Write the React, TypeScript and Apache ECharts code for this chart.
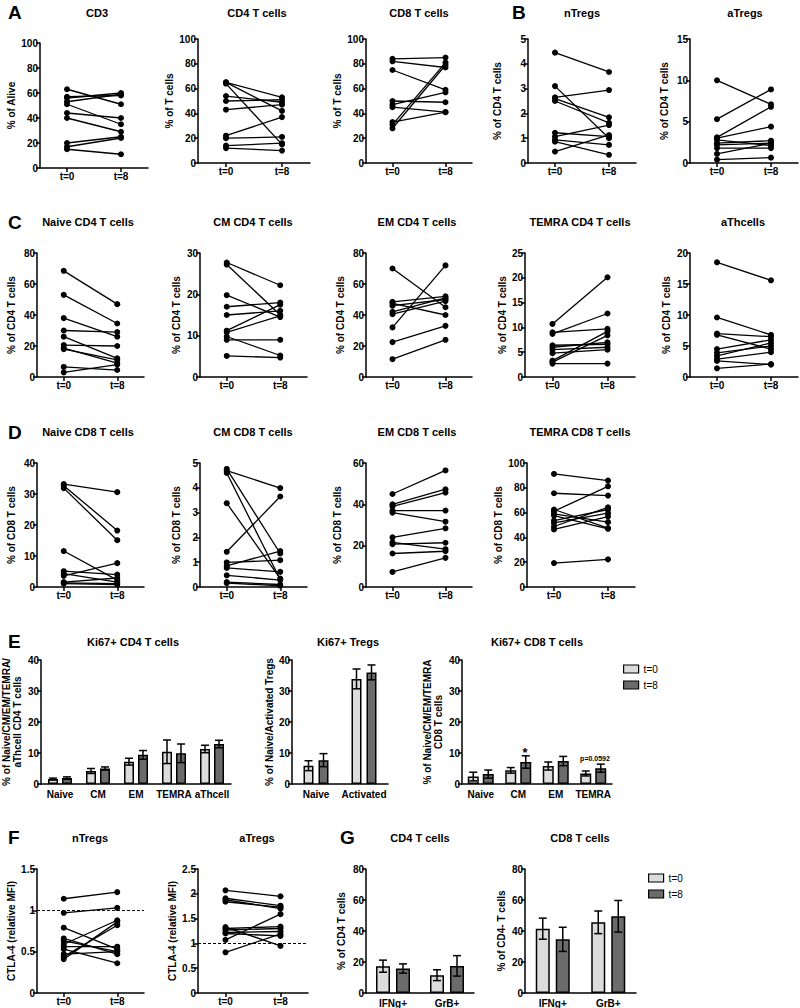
import React, { useEffect, useRef } from "react";
import * as echarts from "echarts";

const FONT = '"Liberation Sans", Arial, Helvetica, sans-serif';
const timeCats = ["t=0", "t=8"];

// Row A
const cd3T0 = [63, 57, 56, 53, 51, 44, 40, 20, 17, 15];
const cd3T8 = [51, 58, 60, 59, 35, 40, 29, 25, 24, 11];
const cd4AT0 = [65, 65, 64, 54, 50, 43, 22, 20, 14, 12];
const cd4AT8 = [53, 42, 15, 49, 51, 47, 37, 21, 16, 10];
const cd8AT0 = [84, 82, 75, 50, 47, 45, 33, 31, 28];
const cd8AT8 = [85, 77, 59, 49, 57, 41, 41, 81, 79];
// Row B
const nTregT0 = [4.45, 3.1, 2.65, 2.6, 2.5, 1.22, 1.06, 0.93, 0.86, 0.46];
const nTregT8 = [3.67, 1.0, 2.94, 1.84, 1.62, 1.06, 1.53, 0.73, 0.33, 1.13];
const aTregT0 = [10.0, 5.3, 3.1, 3.0, 2.8, 2.4, 2.2, 1.8, 1.1, 0.4];
const aTregT8 = [7.1, 8.9, 6.8, 4.4, 2.1, 2.7, 2.4, 1.8, 2.4, 0.65];
// Row C
const naiveCd4T0 = [68.5, 53, 38, 30, 26, 20.6, 18.7, 18, 6.5, 3];
const naiveCd4T8 = [47, 34.5, 26, 29, 12, 20, 9, 11, 4.5, 8];
const cmCd4T0 = [27.7, 27.2, 19.8, 17, 15, 11.2, 10.8, 9.8, 9, 5.1];
const cmCd4T8 = [22.2, 15, 14.5, 18, 16, 17.5, 14.8, 5.2, 9, 4.7];
const emCd4T0 = [70, 48.5, 47.5, 46, 42, 40.5, 32, 22.5, 11.5];
const emCd4T8 = [45, 52, 40, 50, 51, 49, 72, 33, 24];
const temraCd4T0 = [10.7, 9.0, 8.7, 6.4, 6.0, 5.5, 4.8, 3.3, 2.7, 3.0];
const temraCd4T8 = [20.1, 9.7, 12.8, 6.6, 7.0, 6.0, 5.5, 9.2, 2.7, 8.4];
const aThT0 = [18.5, 9.6, 7.0, 6.8, 4.5, 3.9, 3.4, 2.9, 2.6, 1.4];
const aThT8 = [15.6, 6.8, 6.5, 4.5, 6.0, 5.0, 5.5, 4.0, 2.0, 2.1];
// Row D
const naiveCd8T0 = [33.2, 32.7, 31.9, 11.6, 5.1, 4.3, 3.6, 1.6, 1.3, 1.1];
const naiveCd8T8 = [30.6, 18.2, 15.1, 2.2, 4.0, 1.6, 7.7, 2.9, 1.1, 0.8];
const cmCd8T0 = [4.76, 4.69, 4.6, 3.38, 1.42, 0.99, 0.85, 0.77, 0.47, 0.2, 0.16];
const cmCd8T8 = [1.35, 3.99, 0.3, 0.34, 3.65, 1.08, 1.45, 0.61, 0.28, 0.1, 0.05];
const emCd8T0 = [45, 40, 39, 37, 36, 24, 21.6, 20.7, 16.2, 7.3];
const emCd8T8 = [56.4, 47.3, 45.7, 37, 31.6, 28.4, 18.3, 21.4, 17.3, 14.1];
const temraCd8T0 = [91.2, 75.6, 62.5, 61.1, 59, 57.6, 53.6, 51.7, 48.8, 46.4, 19.3];
const temraCd8T8 = [85.8, 73.7, 47.5, 81.2, 52.3, 46.9, 62.5, 59.5, 64.3, 56.8, 22.3];
// Row E
const ki67Cd4Cats = ["Naive", "CM", "EM", "TEMRA", "aThcell"];
const ki67Cd4T0 = [1.6, 4.2, 7.2, 10.4, 11.3];
const ki67Cd4T0Sem = [0.3, 0.8, 1.1, 3.8, 1.2];
const ki67Cd4T8 = [1.9, 5.0, 9.4, 9.9, 12.9];
const ki67Cd4T8Sem = [0.4, 0.5, 1.4, 3.0, 1.2];
const ki67TregCats = ["Naive", "Activated"];
const ki67TregT0 = [5.9, 33.9];
const ki67TregT0Sem = [1.6, 3.2];
const ki67TregT8 = [7.7, 36.0];
const ki67TregT8Sem = [2.1, 2.4];
const ki67Cd8Cats = ["Naive", "CM", "EM", "TEMRA"];
const ki67Cd8T0 = [2.4, 4.4, 5.8, 3.4];
const ki67Cd8T0Sem = [1.4, 0.9, 1.3, 0.8];
const ki67Cd8T8 = [3.2, 7.1, 7.4, 5.1];
const ki67Cd8T8Sem = [1.3, 2.0, 1.5, 1.3];
// Row F
const ctlaNT0 = [1.14, 0.97, 0.79, 0.66, 0.63, 0.59, 0.56, 0.53, 0.47, 0.44, 0.41];
const ctlaNT8 = [1.22, 1.03, 0.53, 0.47, 0.5, 0.88, 0.56, 0.36, 0.5, 0.82, 0.86];
const ctlaAT0 = [2.07, 1.91, 1.88, 1.84, 1.33, 1.3, 1.27, 1.22, 1.2, 1.07, 0.82];
const ctlaAT8 = [1.95, 1.76, 1.7, 1.73, 0.95, 1.34, 1.3, 1.24, 1.15, 1.59, 1.19];
// Row G
const cytoCats = ["IFNg+", "GrB+"];
const cd4CytoT0 = [17.3, 11.5];
const cd4CytoT0Sem = [3.9, 3.5];
const cd4CytoT8 = [15.8, 17.5];
const cd4CytoT8Sem = [3.0, 6.6];
const cd8CytoT0 = [41.5, 45.6];
const cd8CytoT0Sem = [6.8, 7.3];
const cd8CytoT8 = [34.6, 49.5];
const cd8CytoT8Sem = [7.8, 10.2];

const BLACK = "#000";

function buildOption() {
  const grids: any[] = [];
  const xAxes: any[] = [];
  const yAxes: any[] = [];
  const series: any[] = [];
  const graphics: any[] = [];

  const titleText = (text: string, x: number, y: number) =>
    graphics.push({
      type: "text",
      x,
      y,
      silent: true,
      style: { text, fill: BLACK, font: `bold 11px ${FONT}`, align: "center", verticalAlign: "middle" },
    });
  const letter = (text: string, x: number, y: number) =>
    graphics.push({
      type: "text",
      x,
      y,
      silent: true,
      style: { text, fill: BLACK, font: `bold 19px ${FONT}`, align: "left", verticalAlign: "middle" },
    });

  const valAxis = (gi: number, p: any) => ({
    type: "value",
    gridIndex: gi,
    min: p.min,
    max: p.max,
    interval: p.interval,
    axisLine: { show: true, lineStyle: { color: BLACK, width: 1.5 } },
    axisTick: { show: true, length: 4, lineStyle: { color: BLACK, width: 1.5 } },
    axisLabel: { color: BLACK, fontSize: 10, fontWeight: "bold", fontFamily: FONT, margin: 2 },
    splitLine: { show: false },
    name: p.yName,
    nameLocation: "middle",
    nameGap: p.nameGap,
    nameTextStyle: { color: BLACK, fontSize: 10, fontWeight: "bold", fontFamily: FONT, lineHeight: 11 },
  });

  const addGrid = (p: any) => {
    const gi = grids.length;
    grids.push({ left: p.left, top: p.top, width: p.width, height: p.height, containLabel: false });
    return gi;
  };

  const addLinePanel = (p: any) => {
    const gi = addGrid(p);
    xAxes.push({
      type: "category",
      gridIndex: gi,
      data: timeCats,
      boundaryGap: true,
      axisLine: { show: true, lineStyle: { color: BLACK, width: 1.5 } },
      axisTick: { show: true, alignWithLabel: true, length: 4, lineStyle: { color: BLACK, width: 1.5 } },
      axisLabel: { color: BLACK, fontSize: 10, fontWeight: "bold", fontFamily: FONT, margin: 3 },
    });
    yAxes.push(valAxis(gi, p));
    p.t0.forEach((v: number, i: number) => {
      const s: any = {
        type: "line",
        xAxisIndex: gi,
        yAxisIndex: gi,
        data: [v, p.t8[i]],
        symbol: "circle",
        symbolSize: 6,
        silent: true,
        lineStyle: { color: BLACK, width: 1.3 },
        itemStyle: { color: BLACK },
        z: 3,
      };
      if (i === 0 && p.ref !== undefined) {
        s.markLine = {
          silent: true,
          symbol: "none",
          label: { show: false },
          lineStyle: { color: BLACK, type: [3, 2], width: 1.2 },
          data: [{ yAxis: p.ref }],
        };
      }
      series.push(s);
    });
    titleText(p.title, p.tx, p.ty);
  };

  const errRender = (dx: number) => (params: any, api: any) => {
    const i = api.value(0);
    const m = api.value(1);
    const e = api.value(2);
    const top = api.coord([i, m + e]);
    const bot = api.coord([i, m - e]);
    const x = top[0] + dx;
    const cap = 4;
    const st = { stroke: BLACK, lineWidth: 1.5 };
    return {
      type: "group",
      children: [
        { type: "line", shape: { x1: x, y1: top[1], x2: x, y2: bot[1] }, style: st },
        { type: "line", shape: { x1: x - cap, y1: top[1], x2: x + cap, y2: top[1] }, style: st },
        { type: "line", shape: { x1: x - cap, y1: bot[1], x2: x + cap, y2: bot[1] }, style: st },
      ],
    };
  };

  const addBarPanel = (p: any) => {
    const gi = addGrid(p);
    xAxes.push({
      type: "category",
      gridIndex: gi,
      data: p.cats,
      boundaryGap: true,
      axisLine: { show: true, lineStyle: { color: BLACK, width: 1.5 } },
      axisTick: { show: false },
      axisLabel: { color: BLACK, fontSize: 10, fontWeight: "bold", fontFamily: FONT, margin: 5, interval: 0 },
    });
    yAxes.push(valAxis(gi, p));
    const gapPct = `${(p.gap / p.bw) * 100}%`;
    const off = (p.bw + p.gap) / 2;
    series.push({
      type: "bar",
      name: "t=0",
      xAxisIndex: gi,
      yAxisIndex: gi,
      data: p.t0,
      barWidth: p.bw,
      barGap: gapPct,
      silent: true,
      itemStyle: { color: "#dcdcdc", borderColor: BLACK, borderWidth: 1.5 },
    });
    series.push({
      type: "bar",
      name: "t=8",
      xAxisIndex: gi,
      yAxisIndex: gi,
      data: p.t8,
      barWidth: p.bw,
      barGap: gapPct,
      silent: true,
      itemStyle: { color: "#6b6b6b", borderColor: BLACK, borderWidth: 1.5 },
    });
    series.push({
      type: "custom",
      xAxisIndex: gi,
      yAxisIndex: gi,
      silent: true,
      z: 5,
      encode: { x: 0, y: 1 },
      data: p.t0.map((v: number, i: number) => [i, v, p.e0[i]]),
      renderItem: errRender(-off),
    });
    series.push({
      type: "custom",
      xAxisIndex: gi,
      yAxisIndex: gi,
      silent: true,
      z: 5,
      encode: { x: 0, y: 1 },
      data: p.t8.map((v: number, i: number) => [i, v, p.e8[i]]),
      renderItem: errRender(off),
    });
    titleText(p.title, p.tx, p.ty);
  };

  // Row A / B
  addLinePanel({ title: "CD3", tx: 97, ty: 13, left: 40, top: 43, width: 108, height: 125, min: 0, max: 100, interval: 20, yName: "% of Alive", nameGap: 22, t0: cd3T0, t8: cd3T8 });
  addLinePanel({ title: "CD4 T cells", tx: 257, ty: 13, left: 198, top: 39, width: 112, height: 124, min: 0, max: 100, interval: 20, yName: "% of T cells", nameGap: 17, t0: cd4AT0, t8: cd4AT8 });
  addLinePanel({ title: "CD8 T cells", tx: 419, ty: 13, left: 366, top: 39, width: 106, height: 124, min: 0, max: 100, interval: 20, yName: "% of T cells", nameGap: 18, t0: cd8AT0, t8: cd8AT8 });
  addLinePanel({ title: "nTregs", tx: 582, ty: 13, left: 528, top: 39, width: 108, height: 124, min: 0, max: 5, interval: 1, yName: "% of CD4 T cells", nameGap: 25, t0: nTregT0, t8: nTregT8 });
  addLinePanel({ title: "aTregs", tx: 745, ty: 13, left: 690, top: 39, width: 108, height: 124, min: 0, max: 15, interval: 5, yName: "% of CD4 T cells", nameGap: 20, t0: aTregT0, t8: aTregT8 });
  // Row C
  addLinePanel({ title: "Naive CD4 T cells", tx: 88, ty: 222, left: 37, top: 253, width: 107, height: 124, min: 0, max: 80, interval: 20, yName: "% of CD4 T cells", nameGap: 20, t0: naiveCd4T0, t8: naiveCd4T8 });
  addLinePanel({ title: "CM CD4 T cells", tx: 253, ty: 222, left: 200, top: 253, width: 107, height: 124, min: 0, max: 30, interval: 10, yName: "% of CD4 T cells", nameGap: 18, t0: cmCd4T0, t8: cmCd4T8 });
  addLinePanel({ title: "EM CD4 T cells", tx: 417, ty: 222, left: 366, top: 253, width: 106, height: 124, min: 0, max: 80, interval: 20, yName: "% of CD4 T cells", nameGap: 20, t0: emCd4T0, t8: emCd4T8 });
  addLinePanel({ title: "TEMRA CD4 T cells", tx: 580, ty: 222, left: 525, top: 253, width: 110, height: 124, min: 0, max: 25, interval: 5, yName: "% of CD4 T cells", nameGap: 16, t0: temraCd4T0, t8: temraCd4T8 });
  addLinePanel({ title: "aThcells", tx: 743, ty: 222, left: 690, top: 253, width: 108, height: 124, min: 0, max: 20, interval: 5, yName: "% of CD4 T cells", nameGap: 18, t0: aThT0, t8: aThT8 });
  // Row D
  addLinePanel({ title: "Naive CD8 T cells", tx: 88, ty: 432, left: 37, top: 463, width: 107, height: 124, min: 0, max: 40, interval: 10, yName: "% of CD8 T cells", nameGap: 20, t0: naiveCd8T0, t8: naiveCd8T8 });
  addLinePanel({ title: "CM CD8 T cells", tx: 253, ty: 432, left: 200, top: 463, width: 107, height: 124, min: 0, max: 5, interval: 1, yName: "% of CD8 T cells", nameGap: 18, t0: cmCd8T0, t8: cmCd8T8 });
  addLinePanel({ title: "EM CD8 T cells", tx: 417, ty: 432, left: 366, top: 463, width: 106, height: 124, min: 0, max: 60, interval: 20, yName: "% of CD8 T cells", nameGap: 23, t0: emCd8T0, t8: emCd8T8 });
  addLinePanel({ title: "TEMRA CD8 T cells", tx: 580, ty: 432, left: 527, top: 463, width: 108, height: 124, min: 0, max: 100, interval: 20, yName: "% of CD8 T cells", nameGap: 20, t0: temraCd8T0, t8: temraCd8T8 });
  // Row E
  addBarPanel({ title: "Ki67+ CD4 T cells", tx: 133, ty: 642, left: 40, top: 660, width: 191, height: 124, min: 0, max: 40, interval: 10, yName: "% of Naive/CM/EM/TEMRA/\naThcell CD4 T cells", nameGap: 18, cats: ki67Cd4Cats, t0: ki67Cd4T0, e0: ki67Cd4T0Sem, t8: ki67Cd4T8, e8: ki67Cd4T8Sem, bw: 10, gap: 4 });
  addBarPanel({ title: "Ki67+ Tregs", tx: 348, ty: 642, left: 292, top: 660, width: 96, height: 124, min: 0, max: 40, interval: 10, yName: "% of Naive/Activated Tregs", nameGap: 10, cats: ki67TregCats, t0: ki67TregT0, e0: ki67TregT0Sem, t8: ki67TregT8, e8: ki67TregT8Sem, bw: 10, gap: 5 });
  addBarPanel({ title: "Ki67+ CD8 T cells", tx: 537, ty: 642, left: 462, top: 660, width: 150, height: 124, min: 0, max: 40, interval: 10, yName: "% of Naive/CM/EM/TEMRA\nCD8 T cells", nameGap: 18, cats: ki67Cd8Cats, t0: ki67Cd8T0, e0: ki67Cd8T0Sem, t8: ki67Cd8T8, e8: ki67Cd8T8Sem, bw: 11, gap: 4 });
  // Row F
  addLinePanel({ title: "nTregs", tx: 90, ty: 838, left: 37, top: 869, width: 107, height: 124, min: 0, max: 1.5, interval: 0.5, yName: "CTLA-4 (relative MFI)", nameGap: 20, ref: 1, t0: ctlaNT0, t8: ctlaNT8 });
  addLinePanel({ title: "aTregs", tx: 257, ty: 838, left: 198, top: 869, width: 110, height: 124, min: 0, max: 2.5, interval: 0.5, yName: "CTLA-4 (relative MFI)", nameGap: 16, ref: 1, t0: ctlaAT0, t8: ctlaAT8 });
  // Row G
  addBarPanel({ title: "CD4 T cells", tx: 420, ty: 838, left: 366, top: 869, width: 108, height: 124, min: 0, max: 80, interval: 20, yName: "% of CD4 T cells", nameGap: 19, cats: cytoCats, t0: cd4CytoT0, e0: cd4CytoT0Sem, t8: cd4CytoT8, e8: cd4CytoT8Sem, bw: 14, gap: 6 });
  addBarPanel({ title: "CD8 T cells", tx: 580, ty: 838, left: 525, top: 869, width: 111, height: 124, min: 0, max: 80, interval: 20, yName: "% of CD4- T cells", nameGap: 18, cats: cytoCats, t0: cd8CytoT0, e0: cd8CytoT0Sem, t8: cd8CytoT8, e8: cd8CytoT8Sem, bw: 14, gap: 6 });

  letter("A", 8, 12);
  letter("B", 512, 12);
  letter("C", 8, 222);
  letter("D", 8, 432);
  letter("E", 8, 641);
  letter("F", 8, 837);
  letter("G", 340, 837);

  graphics.push({
    type: "text",
    x: 525,
    y: 752,
    silent: true,
    style: { text: "*", fill: BLACK, font: `bold 13px ${FONT}`, align: "center", verticalAlign: "middle" },
  });
  graphics.push({
    type: "text",
    x: 595,
    y: 758,
    silent: true,
    style: { text: "p=0.0592", fill: BLACK, font: `bold 7px ${FONT}`, align: "center", verticalAlign: "middle" },
  });

  const legendBase = {
    data: ["t=0", "t=8"],
    orient: "vertical",
    itemWidth: 15,
    itemHeight: 8,
    itemGap: 6,
    icon: "rect",
    selectedMode: false,
    padding: 0,
    textStyle: { fontSize: 10, color: BLACK, fontFamily: FONT },
    itemStyle: { borderColor: BLACK, borderWidth: 1.2 },
  };

  return {
    animation: false,
    backgroundColor: "#fff",
    textStyle: { fontFamily: FONT },
    grid: grids,
    xAxis: xAxes,
    yAxis: yAxes,
    series,
    legend: [
      { ...legendBase, left: 623, top: 664 },
      { ...legendBase, left: 648, top: 873 },
    ],
    graphic: graphics,
  };
}

export default function App() {
  const ref = useRef<HTMLDivElement>(null);
  useEffect(() => {
    if (!ref.current) return;
    const chart = echarts.init(ref.current, null, { renderer: "svg" });
    chart.setOption(buildOption() as any);
    return () => chart.dispose();
  }, []);
  return (
    <div
      ref={ref}
      style={{ position: "absolute", left: 0, top: 0, width: 800, height: 1008, background: "#fff" }}
    />
  );
}
